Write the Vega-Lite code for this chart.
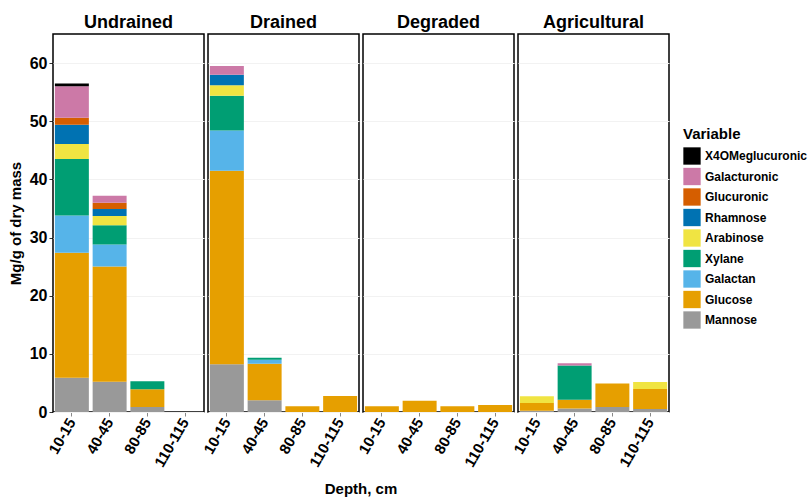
{
  "$schema": "https://vega.github.io/schema/vega-lite/v6.json",
  "background": "white",
  "padding": {"left": 8, "top": 14, "right": 5, "bottom": 5},
  "bounds": "flush",
  "config": {
    "font": "Liberation Sans",
    "view": {"stroke": "black", "strokeWidth": 1.5},
    "axis": {"labelFont": "Liberation Sans", "titleFont": "Liberation Sans"}
  },
  "data": {"values": [
    {"Site": "Undrained", "Depth": "10-15", "Variable": "Mannose", "rank": 1, "value": 5.9},
    {"Site": "Undrained", "Depth": "10-15", "Variable": "Glucose", "rank": 2, "value": 21.5},
    {"Site": "Undrained", "Depth": "10-15", "Variable": "Galactan", "rank": 3, "value": 6.4},
    {"Site": "Undrained", "Depth": "10-15", "Variable": "Xylane", "rank": 4, "value": 9.7},
    {"Site": "Undrained", "Depth": "10-15", "Variable": "Arabinose", "rank": 5, "value": 2.6},
    {"Site": "Undrained", "Depth": "10-15", "Variable": "Rhamnose", "rank": 6, "value": 3.3},
    {"Site": "Undrained", "Depth": "10-15", "Variable": "Glucuronic", "rank": 7, "value": 1.2},
    {"Site": "Undrained", "Depth": "10-15", "Variable": "Galacturonic", "rank": 8, "value": 5.4},
    {"Site": "Undrained", "Depth": "10-15", "Variable": "X4OMeglucuronic", "rank": 9, "value": 0.5},
    {"Site": "Undrained", "Depth": "40-45", "Variable": "Mannose", "rank": 1, "value": 5.2},
    {"Site": "Undrained", "Depth": "40-45", "Variable": "Glucose", "rank": 2, "value": 19.8},
    {"Site": "Undrained", "Depth": "40-45", "Variable": "Galactan", "rank": 3, "value": 3.8},
    {"Site": "Undrained", "Depth": "40-45", "Variable": "Xylane", "rank": 4, "value": 3.3},
    {"Site": "Undrained", "Depth": "40-45", "Variable": "Arabinose", "rank": 5, "value": 1.6},
    {"Site": "Undrained", "Depth": "40-45", "Variable": "Rhamnose", "rank": 6, "value": 1.2},
    {"Site": "Undrained", "Depth": "40-45", "Variable": "Glucuronic", "rank": 7, "value": 1.1},
    {"Site": "Undrained", "Depth": "40-45", "Variable": "Galacturonic", "rank": 8, "value": 1.2},
    {"Site": "Undrained", "Depth": "80-85", "Variable": "Mannose", "rank": 1, "value": 0.85},
    {"Site": "Undrained", "Depth": "80-85", "Variable": "Glucose", "rank": 2, "value": 3.05},
    {"Site": "Undrained", "Depth": "80-85", "Variable": "Xylane", "rank": 4, "value": 1.4},
    {"Site": "Drained", "Depth": "10-15", "Variable": "Mannose", "rank": 1, "value": 8.2},
    {"Site": "Drained", "Depth": "10-15", "Variable": "Glucose", "rank": 2, "value": 33.3},
    {"Site": "Drained", "Depth": "10-15", "Variable": "Galactan", "rank": 3, "value": 6.9},
    {"Site": "Drained", "Depth": "10-15", "Variable": "Xylane", "rank": 4, "value": 6.0},
    {"Site": "Drained", "Depth": "10-15", "Variable": "Arabinose", "rank": 5, "value": 1.8},
    {"Site": "Drained", "Depth": "10-15", "Variable": "Rhamnose", "rank": 6, "value": 1.8},
    {"Site": "Drained", "Depth": "10-15", "Variable": "Galacturonic", "rank": 8, "value": 1.5},
    {"Site": "Drained", "Depth": "40-45", "Variable": "Mannose", "rank": 1, "value": 2.0},
    {"Site": "Drained", "Depth": "40-45", "Variable": "Glucose", "rank": 2, "value": 6.3},
    {"Site": "Drained", "Depth": "40-45", "Variable": "Galactan", "rank": 3, "value": 0.7},
    {"Site": "Drained", "Depth": "40-45", "Variable": "Xylane", "rank": 4, "value": 0.35},
    {"Site": "Drained", "Depth": "80-85", "Variable": "Glucose", "rank": 2, "value": 1.0},
    {"Site": "Drained", "Depth": "110-115", "Variable": "Glucose", "rank": 2, "value": 2.75},
    {"Site": "Degraded", "Depth": "10-15", "Variable": "Glucose", "rank": 2, "value": 1.0},
    {"Site": "Degraded", "Depth": "40-45", "Variable": "Glucose", "rank": 2, "value": 1.95},
    {"Site": "Degraded", "Depth": "80-85", "Variable": "Glucose", "rank": 2, "value": 1.0},
    {"Site": "Degraded", "Depth": "110-115", "Variable": "Glucose", "rank": 2, "value": 1.2},
    {"Site": "Agricultural", "Depth": "10-15", "Variable": "Mannose", "rank": 1, "value": 0.2},
    {"Site": "Agricultural", "Depth": "10-15", "Variable": "Glucose", "rank": 2, "value": 1.35},
    {"Site": "Agricultural", "Depth": "10-15", "Variable": "Arabinose", "rank": 5, "value": 1.15},
    {"Site": "Agricultural", "Depth": "40-45", "Variable": "Mannose", "rank": 1, "value": 0.6},
    {"Site": "Agricultural", "Depth": "40-45", "Variable": "Glucose", "rank": 2, "value": 1.5},
    {"Site": "Agricultural", "Depth": "40-45", "Variable": "Xylane", "rank": 4, "value": 5.9},
    {"Site": "Agricultural", "Depth": "40-45", "Variable": "Galacturonic", "rank": 8, "value": 0.4},
    {"Site": "Agricultural", "Depth": "80-85", "Variable": "Mannose", "rank": 1, "value": 0.85},
    {"Site": "Agricultural", "Depth": "80-85", "Variable": "Glucose", "rank": 2, "value": 4.05},
    {"Site": "Agricultural", "Depth": "110-115", "Variable": "Mannose", "rank": 1, "value": 0.5},
    {"Site": "Agricultural", "Depth": "110-115", "Variable": "Glucose", "rank": 2, "value": 3.45},
    {"Site": "Agricultural", "Depth": "110-115", "Variable": "Arabinose", "rank": 5, "value": 1.2}
  ]},
  "facet": {
    "column": {
      "field": "Site",
      "type": "nominal",
      "sort": ["Undrained", "Drained", "Degraded", "Agricultural"],
      "title": "Depth, cm",
      "header": {
        "titleOrient": "bottom",
        "labelOrient": "top",
        "labelFontSize": 18,
        "labelFontWeight": "bold",
        "labelColor": "black",
        "labelPadding": 2,
        "titleFontSize": 15,
        "titleFontWeight": "bold",
        "titleColor": "black",
        "titlePadding": 2
      }
    }
  },
  "spacing": 4,
  "spec": {
    "width": 151,
    "height": 378,
    "mark": {"type": "bar"},
    "encoding": {
      "x": {
        "field": "Depth",
        "type": "nominal",
        "scale": {"domain": ["10-15", "40-45", "80-85", "110-115"], "paddingInner": 0.1, "paddingOuter": 0.05},
        "axis": {
          "title": null,
          "labelAngle": -60,
          "labelAlign": "right",
          "labelBaseline": "middle",
          "labelFontSize": 15,
          "labelFontWeight": "bold",
          "labelColor": "black",
          "labelPadding": 3,
          "tickColor": "#888888",
          "tickSize": 4,
          "domain": false
        }
      },
      "y": {
        "field": "value",
        "type": "quantitative",
        "aggregate": "sum",
        "stack": "zero",
        "scale": {"domain": [0, 65], "nice": false},
        "axis": {
          "title": "Mg/g of dry mass",
          "values": [0, 10, 20, 30, 40, 50, 60],
          "titleFontSize": 15,
          "titleFontWeight": "bold",
          "titleColor": "black",
          "titlePadding": 6,
          "labelFontSize": 16,
          "labelFontWeight": "bold",
          "labelColor": "black",
          "labelPadding": 2,
          "tickColor": "#333333",
          "tickSize": 4,
          "gridColor": "#f2f2f2",
          "domain": false
        }
      },
      "order": {"field": "rank", "type": "quantitative", "sort": "ascending"},
      "color": {
        "field": "Variable",
        "type": "nominal",
        "sort": ["X4OMeglucuronic", "Galacturonic", "Glucuronic", "Rhamnose", "Arabinose", "Xylane", "Galactan", "Glucose", "Mannose"],
        "scale": {
          "domain": ["X4OMeglucuronic", "Galacturonic", "Glucuronic", "Rhamnose", "Arabinose", "Xylane", "Galactan", "Glucose", "Mannose"],
          "range": ["#000000", "#CC79A7", "#D55E00", "#0072B2", "#F0E442", "#009E73", "#56B4E9", "#E69F00", "#999999"]
        },
        "legend": {
          "title": "Variable",
          "orient": "none",
          "legendX": 630,
          "legendY": 93,
          "titleFontSize": 15,
          "titleFontWeight": "bold",
          "titleColor": "black",
          "labelFontSize": 12,
          "labelFontWeight": "bold",
          "labelColor": "black",
          "symbolType": "square",
          "symbolSize": 300,
          "symbolStrokeWidth": 0,
          "symbolOpacity": 1,
          "rowPadding": 2.5,
          "labelOffset": 4
        }
      }
    }
  }
}
